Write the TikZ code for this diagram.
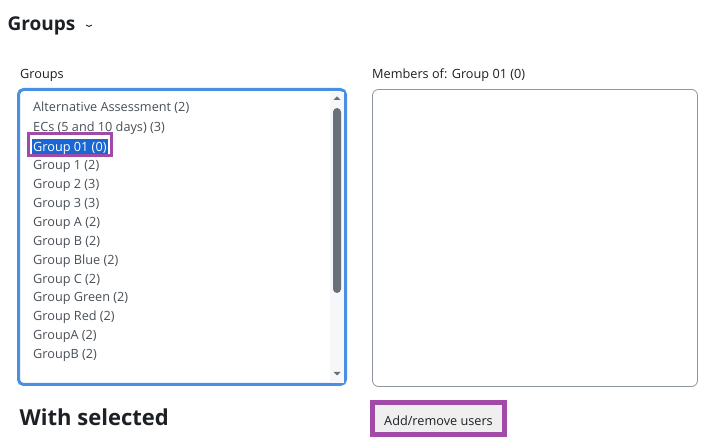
\documentclass[tikz,border=0pt]{standalone}
\usepackage{fontspec}
\setmainfont{Open Sans}
\definecolor{selblue}{HTML}{4A90E2}
\definecolor{hlblue}{HTML}{1A66D2}
\definecolor{purp}{HTML}{A24AA8}
\definecolor{itemgray}{HTML}{495057}
\definecolor{darktxt}{HTML}{1D2125}
\definecolor{boxgray}{HTML}{8F959E}
\definecolor{thumb}{HTML}{6A7078}
\definecolor{track}{HTML}{F6F7F9}
\definecolor{btnfill}{HTML}{EFEFEF}
\tikzset{
  item/.style={anchor=west, inner sep=0pt, text=itemgray, font=\fontsize{12.7}{14}\selectfont},
  lbl/.style={anchor=west, inner sep=0pt, text=darktxt, font=\fontsize{12.7}{14}\selectfont},
  head/.style={anchor=west, inner sep=0pt, text=darktxt, font=\fontsize{19}{22}\selectfont\bfseries},
}
\begin{document}
\begin{tikzpicture}[x=1pt,y=-1pt]
\useasboundingbox (0,0) rectangle (716,446);
\fill[white] (0,0) rectangle (716,446);
% heading
\node[head] (title) at (7.5,26) {Groups};
\coordinate (chev) at (89,26.5);
\draw[darktxt, line width=0.9pt, line cap=round, line join=round] ([shift={(-2.6,-1.4)}]chev) -- (chev) -- ([shift={(2.6,-1.4)}]chev);
% left list
\node[lbl] (glbl) at (20,75) {Groups};
\draw[selblue, line width=3pt, rounded corners=5pt] (18.5,89.5) rectangle (345.5,384.5);
\fill[track] (330,92) rectangle (344,383);
\fill[thumb, rounded corners=4pt] (333,108) rectangle (341,293);
\fill[thumb] (333.5,100) -- (340.5,100) -- (337,96.5) -- cycle;
\fill[thumb] (333.5,372) -- (340.5,372) -- (337,375.5) -- cycle;
\node[item] (i1) at (33,108) {Alternative Assessment (2)};
\node[item] (i2) at (33,128) {ECs (5 and 10 days) (3)};
\fill[hlblue] (32,139) rectangle (108,154);
\draw[purp, line width=3pt] (28.5,133.5) rectangle (111.5,155.5);
\node[item, text=white] (i3) at (33,148) {Group 01 (0)};
\node[item] (i4) at (33,166) {Group 1 (2)};
\node[item] (i5) at (33,185) {Group 2 (3)};
\node[item] (i6) at (33,204) {Group 3 (3)};
\node[item] (i7) at (33,223) {Group A (2)};
\node[item] (i8) at (33,242) {Group B (2)};
\node[item] (i9) at (33,261) {Group Blue (2)};
\node[item] (i10) at (33,280) {Group C (2)};
\node[item] (i11) at (33,298) {Group Green (2)};
\node[item] (i12) at (33,317) {Group Red (2)};
\node[item] (i13) at (33,336) {GroupA (2)};
\node[item] (i14) at (33,355) {GroupB (2)};
% right list
\node[lbl] (mlbl) at (372,75) {Members of: Group 01 (0)};
\draw[boxgray, line width=0.8pt, rounded corners=6pt] (372.5,89.5) rectangle (697.5,386.5);
% bottom
\node[head, font=\fontsize{22}{26}\selectfont\bfseries] (ws) at (19.5,417) {With selected};
\fill[purp] (370,400) rectangle (507,437);
\fill[btnfill] (375,405) rectangle (502,432);
\node[lbl, anchor=center] (btn) at (438.5,421) {Add/remove users};
\end{tikzpicture}
\end{document}
